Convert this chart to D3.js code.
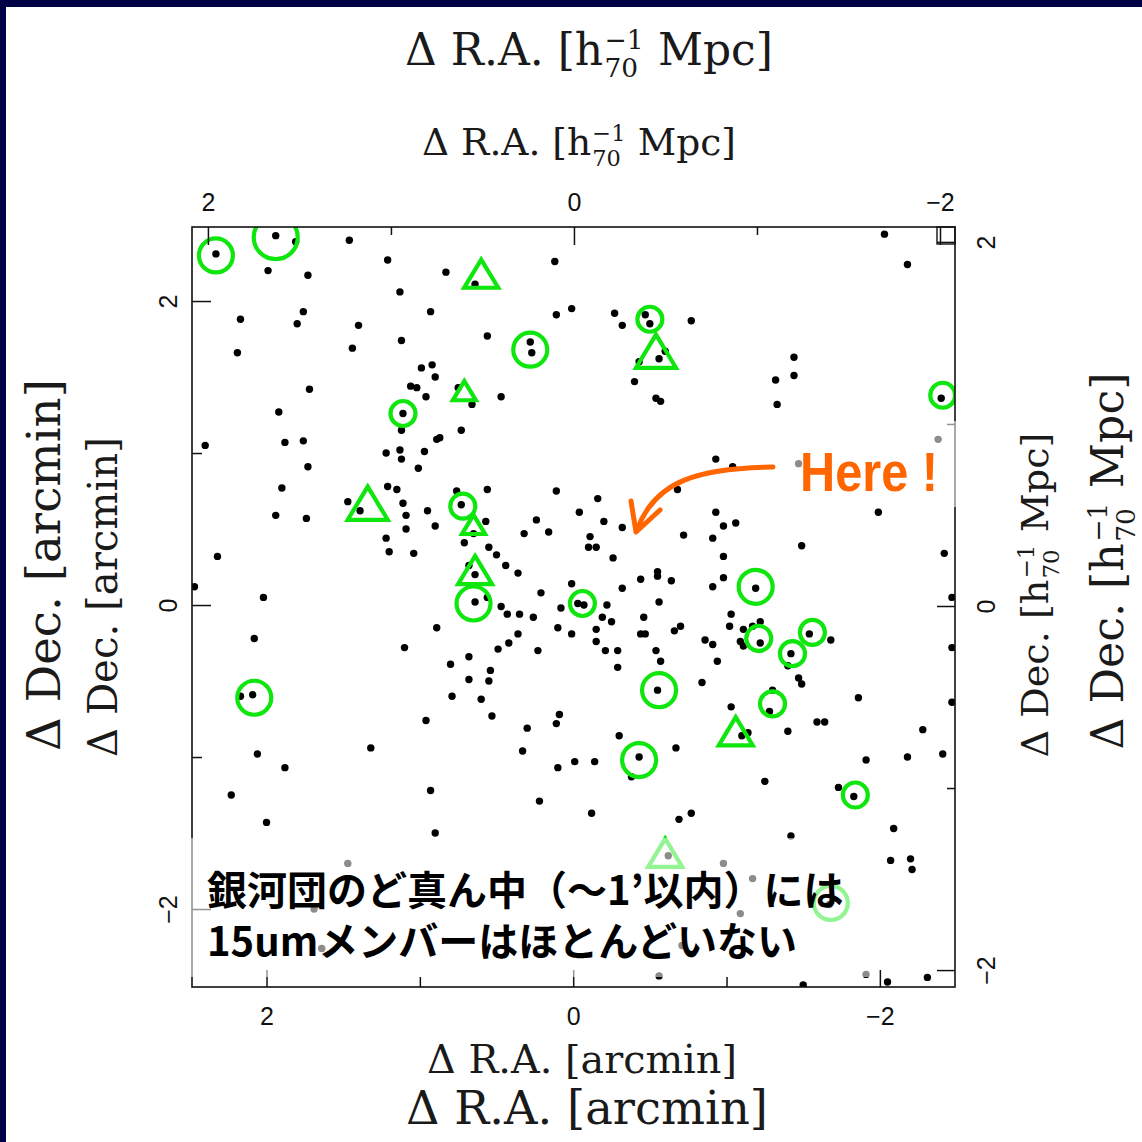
<!DOCTYPE html>
<html><head><meta charset="utf-8">
<script src="https://cdn.jsdelivr.net/npm/d3@7"></script>
<style>body{margin:0;background:#fff}svg{display:block}</style>
</head><body>
<svg id="chart" width="1142" height="1142"></svg>
<script>
// ---------------- data (offsets from cluster centre, arcmin) ----------------
const galaxies = [
 [2.33,2.31],[1.94,2.43],[1.81,2.39],[1.46,2.40],[1.21,2.27],[1.99,2.20],[1.73,2.17],[0.83,2.19],[0.64,2.11],[0.12,2.26],
 [1.13,2.06],[2.17,1.88],[1.76,1.93],[1.80,1.85],[1.40,1.84],[0.93,1.93],[0.11,1.91],[0.01,1.95],[2.19,1.66],[1.44,1.69],
 [1.12,1.74],[0.56,1.77],[0.28,1.73],[0.27,1.66],[0.99,1.56],[0.92,1.58],[0.90,1.50],[1.06,1.44],[1.02,1.43],[0.96,1.37],
 [1.72,1.42],[1.92,1.27],[0.75,1.43],[0.66,1.32],[0.47,1.37],[1.11,1.26],[1.12,1.15],[0.73,1.15],[0.89,1.09],[0.87,1.10],
 [1.88,1.07],[1.76,1.08],[2.40,1.05],[1.22,1.00],[1.13,1.02],[1.12,0.96],[0.97,1.01],[1.73,0.91],[1.01,0.90],
 [-2.03,2.44],[-2.18,2.24],[-0.27,1.92],[-0.32,1.84],[-0.47,1.91],[-0.50,1.85],[-0.77,1.87],[-0.56,1.62],[-0.60,1.67],
 [-0.43,1.60],[-0.40,1.47],[-0.54,1.36],[-0.57,1.34],[-1.44,1.63],[-1.44,1.51],[-1.32,1.48],[-1.33,1.32],[-2.40,1.36],
 [-0.93,0.96],[-1.04,0.91],
 [1.90,0.77],[1.21,0.78],[1.15,0.76],[1.47,0.68],[1.39,0.62],[1.11,0.67],[1.09,0.59],[0.95,0.62],[0.76,0.75],[0.56,0.76],
 [0.73,0.66],[0.57,0.55],[0.65,0.47],[0.11,0.75],[1.94,0.59],[1.74,0.57],[1.09,0.50],[0.90,0.52],[1.22,0.44],[1.20,0.35],
 [1.04,0.34],[0.71,0.41],[0.55,0.38],[0.50,0.33],[0.44,0.26],[0.36,0.21],[0.24,0.56],[0.32,0.47],[0.16,0.48],[-0.04,0.61],
 [2.32,0.32],[0.64,0.20],[0.68,0.26],[2.47,0.12],[2.02,0.05],[0.64,0.02],[0.56,0.05],[0.21,0.08],[0.01,0.14],[0.47,-0.01],
 [0.43,-0.06],[0.35,-0.06],[0.26,-0.08],[0.08,-0.02],[2.08,-0.22],[0.89,-0.15],[0.36,-0.19],[0.42,-0.25],[0.49,-0.29],[0.10,-0.15],
 [0.01,-0.19],[0.23,-0.30],[1.10,-0.28],[0.68,-0.34],[0.80,-0.39],[0.54,-0.43],[0.55,-0.50],[0.68,-0.49],[2.09,-0.59],[2.17,-0.60],
 [0.79,-0.60],[0.60,-0.62],[0.96,-0.76],[0.53,-0.73],[0.30,-0.81],[0.09,-0.72],[0.11,-0.78],
 [-0.68,0.76],[-0.16,0.70],[-0.20,0.55],[-0.32,0.51],[-0.93,0.61],[-0.98,0.52],[-1.06,0.54],[-0.91,0.44],[-0.72,0.46],[-0.11,0.45],
 [-0.10,0.38],[-0.15,0.38],[-0.26,0.31],[-0.98,0.32],[-1.49,0.39],[-1.99,0.61],[-2.42,0.34],[-0.55,0.22],[-0.55,0.19],[-0.44,0.17],
 [-0.64,0.16],[-0.32,0.11],[-0.98,0.18],[-0.91,0.12],[-1.19,0.11],[-0.56,0.02],[-0.03,0.01],[-0.07,0.00],[-0.22,0.00],[-0.19,-0.08],
 [-0.25,-0.11],[-0.15,-0.16],[-0.46,-0.08],[-0.44,-0.19],[-0.47,-0.19],[-0.66,-0.17],[-0.70,-0.14],[-0.15,-0.24],[-0.21,-0.30],[-0.29,-0.30],
 [-0.54,-0.30],[-0.57,-0.37],[-0.29,-0.41],[-1.03,-0.06],[-1.02,-0.14],[-1.11,-0.16],[-1.17,-0.14],[-1.22,-0.11],[-0.86,-0.23],[-0.91,-0.26],
 [-1.09,-0.24],[-1.11,-0.27],[-1.22,-0.25],[-1.54,-0.19],[-1.68,-0.23],[-1.42,-0.32],[-1.40,-0.40],[-0.94,-0.37],[-0.55,-0.56],[-0.84,-0.51],
 [-1.47,-0.48],[-1.49,-0.52],[-1.28,-0.70],[-1.30,-0.56],[-1.03,-0.67],[-1.86,-0.61],[-1.59,-0.77],[-1.64,-0.77],[-2.28,-0.82],[-1.40,-0.83],
 [-2.47,-0.64],[-2.47,-0.28],[-2.47,0.05],[-0.30,-0.86],[-1.10,-0.86],[-1.14,-0.84],
 [2.06,-0.98],[1.88,-1.07],[1.32,-0.94],[0.33,-0.96],[0.10,-1.07],[-0.01,-1.03],[2.23,-1.25],[0.93,-1.22],[0.22,-1.29],[2.00,-1.43],
 [0.90,-1.50],[-0.43,-1.00],[-0.38,-1.13],[-0.67,-0.94],[-0.14,-1.03],[-1.91,-1.02],[-2.18,-1.00],[-2.41,-0.98],[-1.25,-1.16],[-1.73,-1.20],
 [-1.83,-1.26],[-0.12,-1.37],[-0.69,-1.41],[-0.77,-1.37],[-1.42,-1.52],[-2.09,-1.47],[-2.07,-1.68],[-2.20,-1.67],[-2.21,-1.74],[-1.50,-2.50],
 [-2.05,-2.48],[-2.31,-2.45],
 [-2.38,1.09],[-1.47,0.93],[1.47,-1.70],[1.69,-2.00],[1.64,-2.26],[-0.62,-1.65],[-0.98,-1.70],[-1.17,-1.80],[-1.09,-2.03],[-1.67,-1.97],
 [-0.71,-2.24],[-0.56,-2.44],[-1.91,-2.43]
];
// 15um members: circles [dRA, dDec, size class]
const circleMembers = [
 [2.33,2.30,2],[1.94,2.42,3],[0.28,1.68,2],[1.11,1.26,1],[-0.50,1.88,1],[-2.41,1.38,1],[0.72,0.65,1],[0.65,0.01,2],
 [2.08,-0.61,2],[-0.06,0.01,1],[-1.19,0.12,2],[-1.21,-0.22,1],[-1.56,-0.18,1],[-1.43,-0.32,1],[-0.56,-0.56,2],
 [-1.30,-0.65,1],[-0.43,-1.02,2],[-1.84,-1.25,1],[-1.68,-1.96,2]
];
// triangles [dRA, dDec, size class]
const triangleMembers = [
 [0.60,2.18,2],[0.71,1.41,1],[-0.54,1.67,3],[1.34,0.67,3],[0.65,0.53,1],[0.64,0.23,2],[-1.06,-0.83,2],[-0.60,-1.63,2]
];
const arcTicksMajor = [-2,0,2], arcTicksMinor = [-1,1];
const mpcTicksMajor = [-2,0,2], mpcTicksMinor = [-1,1];
const raArcDomain = [2.486,-2.49], decArcDomain = [-2.513,2.487];
const raMpcDomain = [2.087,-2.082], decMpcDomain = [-2.093,2.082];
const mpcLabel = ["Δ\u00A0R.A.\u00A0[h", "−1", "70", "\u00A0Mpc]"];
const decMpcLabel = ["Δ\u00A0Dec.\u00A0[h", "−1", "70", "\u00A0Mpc]"];
const arcLabelRA = "Δ\u00A0R.A.\u00A0[arcmin]";
const arcLabelDec = "Δ\u00A0Dec.\u00A0[arcmin]";
const noteLines = ["銀河団のど真ん中（～1’以内）には", "15umメンバーはほとんどいない"];
const hereText = "Here !";

// ---------------- drawing ----------------
const W = 1142, H = 1142;
const svg = d3.select("#chart");
svg.append("rect").attr("width", W).attr("height", H).attr("fill", "#000046");
svg.append("rect").attr("x", 6).attr("y", 7).attr("width", W - 6).attr("height", H - 7).attr("fill", "#fff");

const P = {l:192, r:955, t:227, b:987};
const x = d3.scaleLinear().domain(raArcDomain).range([P.l, P.r]);
const y = d3.scaleLinear().domain(decArcDomain).range([P.b, P.t]);
const xm = d3.scaleLinear().domain(raMpcDomain).range([P.l, P.r]);
const ym = d3.scaleLinear().domain(decMpcDomain).range([P.b, P.t]);
const circR = d3.scaleOrdinal().domain([1,2,3]).range([12.5,17,22]);
const triW = d3.scaleOrdinal().domain([1,2,3]).range([23,34,40]);

svg.append("clipPath").attr("id","pc").append("rect")
  .attr("x",P.l).attr("y",P.t).attr("width",P.r-P.l).attr("height",P.b-P.t);
const marks = svg.append("g").attr("clip-path","url(#pc)");
marks.selectAll("circle.g").data(galaxies).join("circle").attr("class","g")
  .attr("cx", d => x(d[0])).attr("cy", d => y(d[1])).attr("r", 3.7).attr("fill", "#000");
const GREEN = "#0ee60e";
marks.selectAll("circle.m").data(circleMembers).join("circle").attr("class","m")
  .attr("cx", d => x(d[0])).attr("cy", d => y(d[1])).attr("r", d => circR(d[2]))
  .attr("fill","none").attr("stroke",GREEN).attr("stroke-width",4.2);
marks.selectAll("path.t").data(triangleMembers).join("path").attr("class","t")
  .attr("d", d => { const cx=x(d[0]), cy=y(d[1]), w=triW(d[2]), h=w*0.83;
     return `M${cx},${cy-h/2}L${cx+w/2},${cy+h/2}L${cx-w/2},${cy+h/2}Z`; })
  .attr("fill","none").attr("stroke",GREEN).attr("stroke-width",4.2).attr("stroke-linejoin","miter");

// frame
svg.append("rect").attr("x",P.l).attr("y",P.t).attr("width",P.r-P.l).attr("height",P.b-P.t)
  .attr("fill","none").attr("stroke","#111").attr("stroke-width",1.6);
svg.append("rect").attr("x",P.r-18).attr("y",P.t).attr("width",18).attr("height",17)
  .attr("fill","none").attr("stroke","#111").attr("stroke-width",1.4);

const fmt = d3.format("d");
const TICKFONT = "Liberation Sans, Arial, sans-serif";
function styleAxis(g){
  g.select(".domain").remove();
  g.selectAll("line").attr("stroke","#111").attr("stroke-width",1.5);
  g.selectAll("text").attr("font-family",TICKFONT).attr("font-size",25).attr("fill","#111");
}
// bottom (arcmin)
svg.append("g").attr("transform",`translate(0,${P.b})`)
  .call(d3.axisBottom(x).tickValues(arcTicksMajor).tickSize(-17).tickPadding(20).tickFormat(fmt)).call(styleAxis);
svg.append("g").attr("transform",`translate(0,${P.b})`)
  .call(d3.axisBottom(x).tickValues(arcTicksMinor).tickSize(-10).tickFormat("")).call(styleAxis);
// top (Mpc)
svg.append("g").attr("transform",`translate(0,${P.t})`)
  .call(d3.axisTop(xm).tickValues(mpcTicksMajor).tickSize(-18).tickPadding(16).tickFormat(fmt)).call(styleAxis);
svg.append("g").attr("transform",`translate(0,${P.t})`)
  .call(d3.axisTop(xm).tickValues(mpcTicksMinor).tickSize(-8).tickFormat("")).call(styleAxis);
// left (arcmin)
svg.append("g").attr("transform",`translate(${P.l},0)`)
  .call(d3.axisLeft(y).tickValues(arcTicksMajor).tickSize(-19).tickFormat(fmt)).call(styleAxis)
  .selectAll("text").attr("x",null).attr("dy",null).attr("text-anchor","middle")
  .attr("transform","translate(-15,0) rotate(-90)");
svg.append("g").attr("transform",`translate(${P.l},0)`)
  .call(d3.axisLeft(y).tickValues(arcTicksMinor).tickSize(-10).tickFormat("")).call(styleAxis);
// right (Mpc)
svg.append("g").attr("transform",`translate(${P.r},0)`)
  .call(d3.axisRight(ym).tickValues(mpcTicksMajor).tickSize(-18).tickFormat(fmt)).call(styleAxis)
  .selectAll("text").attr("x",null).attr("dy",null).attr("text-anchor","middle")
  .attr("transform","translate(40,0) rotate(-90)");
svg.append("g").attr("transform",`translate(${P.r},0)`)
  .call(d3.axisRight(ym).tickValues(mpcTicksMinor).tickSize(-8).tickFormat("")).call(styleAxis);

// axis titles
const SERIF = "DejaVu Serif, Liberation Serif, serif";
function buildLabel(g, parts, fs){
  g.selectAll("*").remove();
  let xp = 0;
  const add = (txt, xx, yy, s) => g.append("text").attr("x",xx).attr("y",yy).attr("font-size",s).text(txt);
  if (typeof parts === "string") { xp = add(parts,0,0,fs).node().getComputedTextLength(); return xp; }
  const t1 = add(parts[0],0,0,fs); xp = t1.node().getComputedTextLength();
  const sup = add(parts[1], xp+fs*0.03, -fs*0.36, fs*0.6);
  const sub = add(parts[2], xp+fs*0.03, fs*0.28, fs*0.6);
  xp += Math.max(sup.node().getComputedTextLength(), sub.node().getComputedTextLength()) + fs*0.04;
  const t2 = add(parts[3], xp, 0, fs); xp += t2.node().getComputedTextLength();
  return xp;
}
function placeLabel(parts, width, cx, base, rot){
  const outer = svg.append("g").attr("font-family",SERIF).attr("fill","#1a1a1a");
  const inner = outer.append("g");
  let w = buildLabel(inner, parts, 30);
  const fs = 30*width/w;
  w = buildLabel(inner, parts, fs);
  inner.attr("transform",`translate(${-w/2},0)`);
  outer.attr("transform",`translate(${cx},${base}) rotate(${rot})`);
}
placeLabel(mpcLabel, 368, 589, 65, 0);
placeLabel(mpcLabel, 314, 579, 155, 0);
placeLabel(arcLabelRA, 310, 582, 1073, 0);
placeLabel(arcLabelRA, 362, 587, 1124, 0);
placeLabel(arcLabelDec, 372, 60, 565, -90);
placeLabel(arcLabelDec, 320, 117, 597, -90);
placeLabel(decMpcLabel, 325, 1048, 595, -90);
placeLabel(decMpcLabel, 377, 1123, 561, -90);

// annotation backdrops (semi-transparent white)
svg.append("rect").attr("x",785).attr("y",421).attr("width",177).attr("height",86).attr("fill","#fff").attr("opacity",0.55);
svg.append("rect").attr("x",186).attr("y",838).attr("width",686).attr("height",139).attr("fill","#fff").attr("opacity",0.55);

// annotations
const ORANGE = "#ff6600";
svg.append("path").attr("d","M773,467 C700,468 655,480 637,530").attr("fill","none")
  .attr("stroke",ORANGE).attr("stroke-width",5).attr("stroke-linecap","round");
svg.append("path").attr("d","M631,501 L636,532 L660,510").attr("fill","none")
  .attr("stroke",ORANGE).attr("stroke-width",5).attr("stroke-linecap","round").attr("stroke-linejoin","round");
svg.append("text").attr("x",800).attr("y",491).attr("font-family","Liberation Sans, Arial, sans-serif")
  .attr("font-weight","bold").attr("font-size",56).attr("fill",ORANGE)
  .attr("textLength",138).attr("lengthAdjust","spacingAndGlyphs").text(hereText);
const note = svg.append("text").attr("x",207).attr("y",905)
  .attr("font-family","Noto Sans CJK JP, sans-serif").attr("font-weight","bold").attr("font-size",40)
  .attr("fill","#000");
note.selectAll("tspan").data(noteLines).join("tspan")
  .attr("x",207).attr("dy",(d,i)=> i===0 ? 0 : 51).text(d=>d);
</script>
</body></html>
